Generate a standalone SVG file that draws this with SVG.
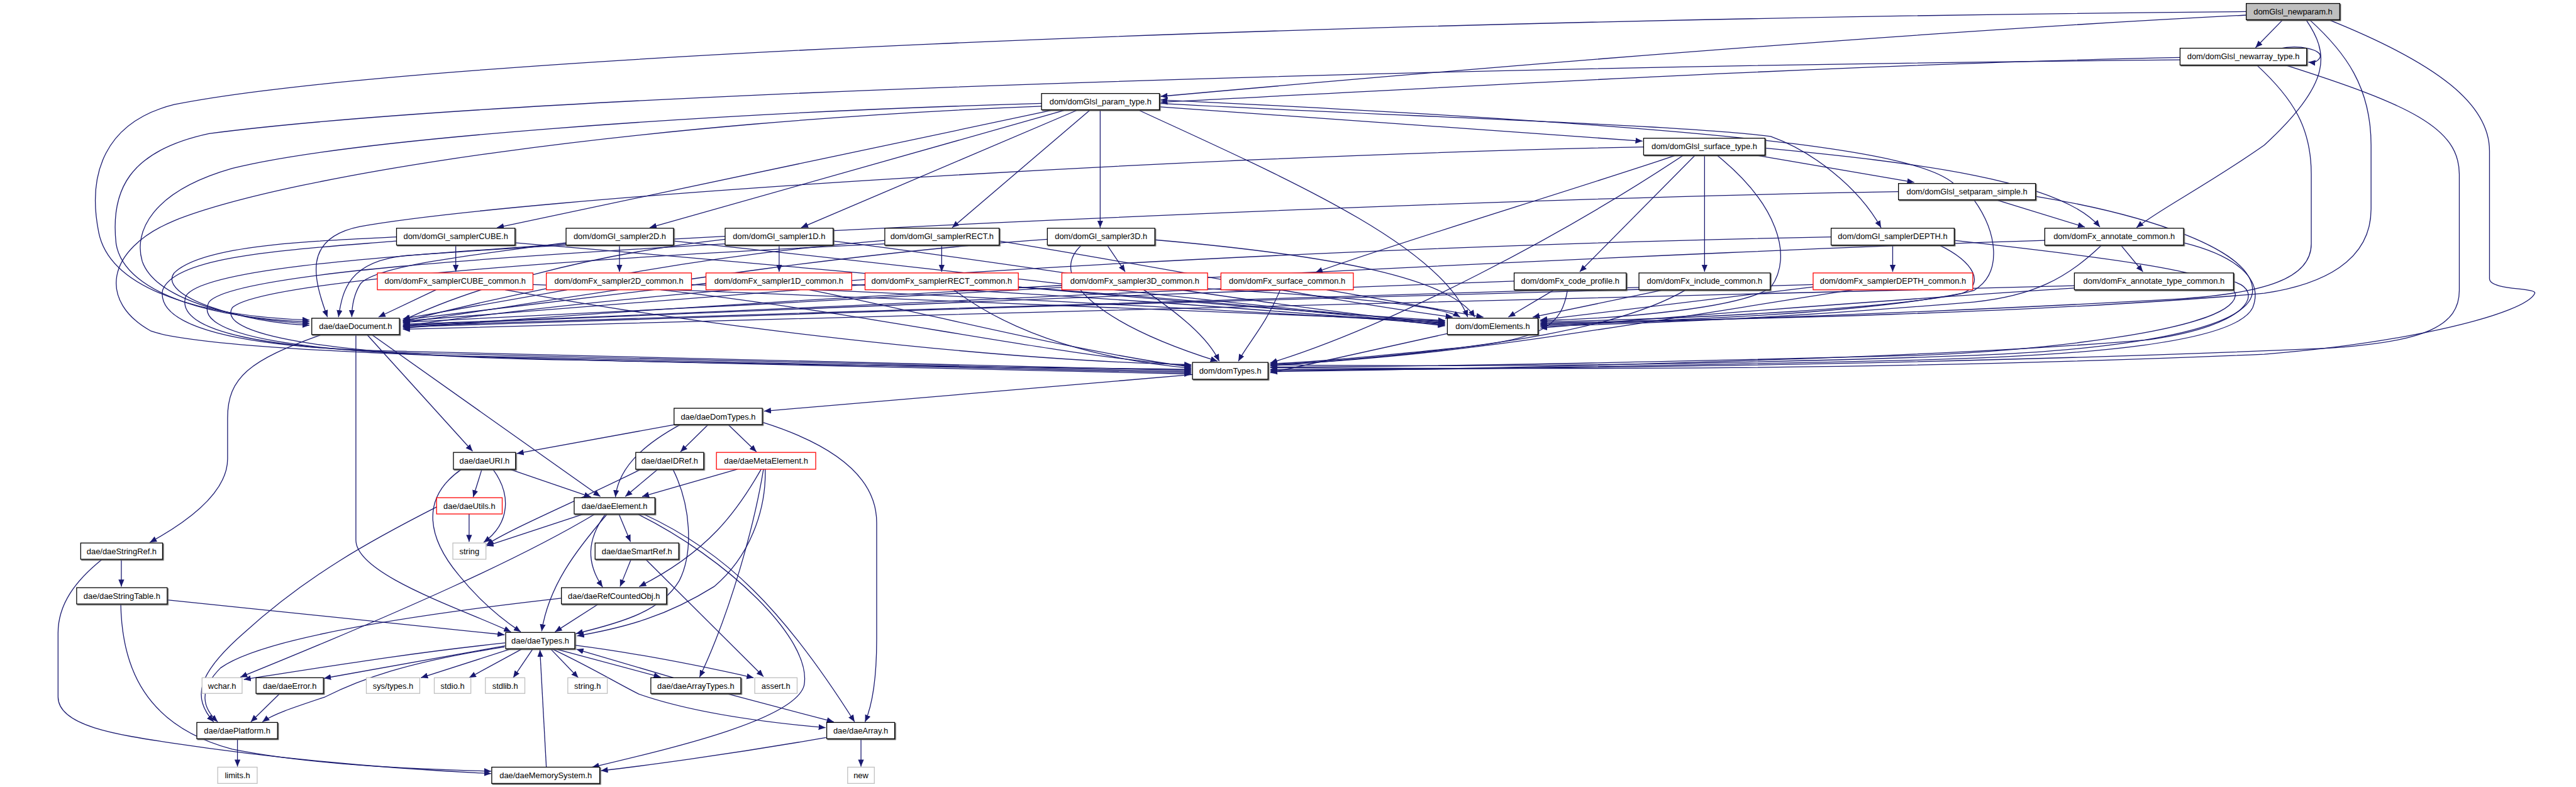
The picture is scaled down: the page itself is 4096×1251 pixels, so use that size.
<svg xmlns="http://www.w3.org/2000/svg" width="4096" height="1251" viewBox="0 0 4096 1251">
<style>
.nd rect{fill:#fff;stroke:#000;stroke-width:1.4}
.nd.b rect{filter:url(#sh)}
.nd.r rect{stroke:#ff0000}
.nd.g rect{stroke:#bfbfbf}
.nd.root rect{fill:#bfbfbf}
.nd text{font-family:"Liberation Sans",Arial,sans-serif;font-size:14px;text-anchor:middle;fill:#000}
.e path{fill:none;stroke:#191970;stroke-width:1.4;marker-end:url(#a)}
</style>
<defs>
<marker id="a" markerUnits="userSpaceOnUse" markerWidth="14" markerHeight="12" refX="12" refY="5" orient="auto"><path d="M0,0 L12,5 L0,10 z" fill="#191970"/></marker>
<filter id="sh" x="-5%" y="-10%" width="110%" height="130%"><feDropShadow dx="1.5" dy="1.5" stdDeviation="0" flood-color="#555"/></filter>
</defs>
<rect width="4096" height="1251" fill="#fff"/>
<g transform="scale(0.92315)">
<g id="edges" class="e">
<path d="M3932,34 L3885,82"/>
<path d="M3869,26 C3200,60 2400,130 1999,166"/>
<path d="M3869,20 C2200,35 700,100 300,180 C180,210 150,300 170,400 C190,500 350,545 533,551"/>
<path d="M3972,34 C4010,90 4020,140 3900,250 C3800,320 3720,360 3680,392"/>
<path d="M3978,34 C4040,90 4084,150 4084,250 L4084,360 C4084,450 4000,490 3900,505 C3500,540 3000,550 2653,556"/>
<path d="M4011,34 C4200,110 4288,180 4288,260 L4288,480 C4288,500 4370,495 4366,505 C4350,540 4150,590 3900,610 C3200,640 2600,635 2188,633"/>
<path d="M3925,84 C3960,76 4002,86 3996,99 C3992,107 3985,108 3976,107"/>
<path d="M3755,99 C3200,110 2500,150 1999,176"/>
<path d="M3755,103 C2500,115 900,160 360,230 C220,260 190,330 200,420 C215,510 380,550 533,554"/>
<path d="M3887,112 C3950,170 3981,220 3981,300 L3981,420 C3981,480 3900,505 3750,515 C3300,540 2900,552 2653,560"/>
<path d="M3936,112 C4150,180 4236,220 4236,300 L4236,500 C4236,560 4180,590 4000,600 C3300,630 2600,635 2188,638"/>
<path d="M1998,184 L2829,243"/>
<path d="M1816,189 L856,392"/>
<path d="M1837,189 L1119,392"/>
<path d="M1857,189 L1380,392"/>
<path d="M1878,189 L1640,392"/>
<path d="M1895,189 L1895,392"/>
<path d="M1997,178 C2400,200 2900,215 3050,235 C3120,260 3200,320 3240,392"/>
<path d="M1794,178 C1200,195 600,240 400,290 C260,330 230,400 245,450 C270,520 420,552 533,557"/>
<path d="M1960,189 C2200,300 2480,420 2528,546"/>
<path d="M1794,183 C1100,210 500,300 300,380 C180,430 170,520 260,570 C400,620 1400,628 2052,636"/>
<path d="M3023,267 L3297,314"/>
<path d="M2888,267 C2700,330 2400,420 2266,469"/>
<path d="M2920,267 L2721,468"/>
<path d="M2936,267 L2936,468"/>
<path d="M3040,255 C3300,280 3550,310 3617,391"/>
<path d="M2831,253 C2000,270 900,340 620,390 C520,410 540,480 564,546"/>
<path d="M2957,267 C3060,350 3090,440 3050,495 C3000,530 2800,548 2653,552"/>
<path d="M2900,267 C2700,400 2400,560 2188,625"/>
<path d="M3365,316 C3300,260 3000,220 1999,172"/>
<path d="M3438,344 L3591,391"/>
<path d="M3270,330 C2400,345 1100,410 700,440 C600,450 590,500 583,546"/>
<path d="M3400,344 C3440,400 3450,470 3400,500 C3300,530 2900,550 2653,554"/>
<path d="M3506,338 C3700,370 3880,430 3880,500 C3880,560 3700,600 3400,612 C2900,630 2500,632 2188,628"/>
<path d="M785,422 L785,468"/>
<path d="M683,408 C550,415 350,420 300,470 C270,510 420,556 533,560"/>
<path d="M887,418 C1400,460 2100,530 2489,552"/>
<path d="M683,415 C500,430 300,440 280,500 C270,560 400,600 700,605 C1200,615 1700,630 2052,638"/>
<path d="M1067,422 L1067,468"/>
<path d="M975,418 C800,440 640,460 620,490 C608,510 606,530 606,546"/>
<path d="M1160,415 C1600,460 2150,530 2489,555"/>
<path d="M975,420 C700,440 350,460 320,510 C300,570 450,605 800,610 C1300,620 1700,634 2052,640"/>
<path d="M1342,422 L1342,468"/>
<path d="M1249,412 C1000,440 800,500 694,552"/>
<path d="M1435,415 C1800,460 2200,530 2489,558"/>
<path d="M1249,420 C900,440 400,470 360,520 C330,575 500,610 900,615 C1400,625 1750,637 2052,642"/>
<path d="M1622,422 L1622,468"/>
<path d="M1524,414 C1200,440 900,500 694,554"/>
<path d="M1721,415 C2000,460 2300,520 2502,546"/>
<path d="M1524,420 C1100,440 450,480 400,530 C370,580 600,615 1000,620 C1500,630 1800,640 2052,644"/>
<path d="M1907,422 L1938,468"/>
<path d="M1804,412 C1400,440 1000,510 694,556"/>
<path d="M1989,413 C2300,440 2500,480 2540,546"/>
<path d="M1863,422 C1800,480 1900,560 2097,622"/>
<path d="M3260,422 L3260,468"/>
<path d="M3154,408 C2500,420 1300,470 694,562"/>
<path d="M3340,422 C3400,450 3420,490 3380,505 C3200,540 2900,552 2653,558"/>
<path d="M3366,414 C3600,440 3860,470 3850,510 C3840,570 3500,605 3300,612 C2800,625 2400,632 2188,632"/>
<path d="M3653,422 L3691,468"/>
<path d="M3522,414 C3000,430 1500,500 694,565"/>
<path d="M3620,422 C3560,480 3500,510 3400,520 C3100,545 2900,555 2653,562"/>
<path d="M3761,418 C3850,440 3900,480 3880,530 C3850,590 3600,612 3300,620 C2800,632 2400,636 2188,636"/>
<path d="M751,499 L652,546"/>
<path d="M918,490 C1500,510 2100,540 2489,553"/>
<path d="M870,499 C1200,560 1700,620 2052,628"/>
<path d="M977,499 L694,549"/>
<path d="M1191,490 C1700,510 2200,540 2489,556"/>
<path d="M1138,499 C1500,540 1800,610 2052,630"/>
<path d="M1216,488 L694,551"/>
<path d="M1467,490 C1900,510 2250,540 2489,559"/>
<path d="M1394,499 C1600,540 1850,605 2052,632"/>
<path d="M1490,490 L694,553"/>
<path d="M1754,494 C2100,520 2350,545 2489,561"/>
<path d="M1643,499 C1750,580 1900,620 2052,634"/>
<path d="M1829,495 C1500,515 1000,540 694,555"/>
<path d="M2080,497 C2300,510 2480,525 2515,546"/>
<path d="M1970,499 C2030,540 2080,580 2100,622"/>
<path d="M2103,497 C1700,515 1100,545 694,558"/>
<path d="M2285,499 L2555,546"/>
<path d="M2205,499 C2180,560 2150,590 2133,622"/>
<path d="M2608,484 C2000,505 1200,540 694,560"/>
<path d="M2677,499 L2598,546"/>
<path d="M2700,499 C2690,560 2660,585 2500,600 C2350,615 2250,625 2188,626"/>
<path d="M2823,495 C2200,510 1300,545 694,561"/>
<path d="M2866,499 L2640,546"/>
<path d="M2904,499 C2800,560 2600,600 2188,630"/>
<path d="M3123,490 C2600,500 1400,540 694,563"/>
<path d="M3123,494 C2900,520 2700,545 2653,551"/>
<path d="M3191,499 C2800,560 2500,615 2188,628"/>
<path d="M3573,492 C3000,505 1500,545 694,567"/>
<path d="M3573,496 C3200,520 2800,552 2653,565"/>
<path d="M3847,485 C3900,500 3880,560 3700,585 C3300,620 2500,636 2188,640"/>
<path d="M2495,574 L2188,642"/>
<path d="M2054,645 L1316,708"/>
<path d="M632,576 L814,777"/>
<path d="M640,576 L1034,855"/>
<path d="M552,577 C430,620 392,650 392,720 L392,790 C392,850 320,900 258,934"/>
<path d="M613,576 L613,930 C613,990 800,1050 880,1088"/>
<path d="M1163,731 L890,781"/>
<path d="M1172,731 C1100,770 1065,810 1060,856"/>
<path d="M1220,731 L1172,778"/>
<path d="M1254,731 L1303,778"/>
<path d="M1313,727 C1450,770 1510,830 1510,900 L1510,1100 C1510,1180 1500,1220 1490,1243"/>
<path d="M830,808 L815,856"/>
<path d="M849,808 C880,850 880,900 833,934"/>
<path d="M878,808 L1018,856"/>
<path d="M795,808 C720,860 740,930 790,990 C830,1040 870,1070 897,1088"/>
<path d="M808,885 L808,933"/>
<path d="M752,873 C640,930 530,990 420,1090 C340,1160 330,1200 368,1243"/>
<path d="M1133,808 L1077,855"/>
<path d="M1104,808 C1000,860 880,910 838,938"/>
<path d="M1159,808 C1190,870 1195,950 1170,1000 C1140,1050 1080,1070 992,1091"/>
<path d="M1270,808 L1106,855"/>
<path d="M1311,808 C1270,880 1220,950 1101,1010"/>
<path d="M1315,808 C1300,900 1260,1050 1205,1166"/>
<path d="M1318,808 C1320,880 1290,960 1230,1010 C1150,1060 1080,1080 994,1095"/>
<path d="M1006,885 L838,940"/>
<path d="M1066,885 L1086,933"/>
<path d="M1043,885 C1010,930 1010,970 1038,1011"/>
<path d="M1046,885 C990,950 945,1010 933,1087"/>
<path d="M1025,885 C900,960 700,1050 414,1166"/>
<path d="M1098,885 C1250,960 1400,1100 1385,1180 C1370,1240 1150,1290 1020,1321"/>
<path d="M1108,885 C1250,950 1350,1050 1472,1243"/>
<path d="M1112,963 L1315,1165"/>
<path d="M1087,963 L1068,1010"/>
<path d="M209,963 L209,1010"/>
<path d="M176,963 C130,1000 100,1040 100,1090 L100,1200 C100,1250 200,1265 300,1280 C500,1310 700,1325 846,1332"/>
<path d="M288,1033 L869,1093"/>
<path d="M208,1040 C210,1150 250,1250 400,1290 C550,1320 750,1325 846,1328"/>
<path d="M1031,1040 L956,1088"/>
<path d="M967,1030 C700,1060 450,1100 380,1150 C340,1190 350,1220 375,1243"/>
<path d="M870,1107 C700,1125 550,1150 420,1170"/>
<path d="M870,1112 L558,1168"/>
<path d="M881,1117 L725,1167"/>
<path d="M900,1117 L808,1167"/>
<path d="M918,1117 L884,1167"/>
<path d="M948,1117 L996,1167"/>
<path d="M869,1114 C700,1140 620,1170 560,1200 C500,1220 470,1230 452,1243"/>
<path d="M955,1117 L1138,1166"/>
<path d="M1160,1167 L993,1118"/>
<path d="M990,1111 C1100,1125 1200,1145 1298,1167"/>
<path d="M950,1117 C1020,1150 1060,1175 1100,1195 C1200,1230 1330,1245 1422,1253"/>
<path d="M481,1195 L432,1243"/>
<path d="M409,1272 L409,1320"/>
<path d="M1254,1195 L1436,1243"/>
<path d="M1483,1272 L1483,1320"/>
<path d="M1423,1270 C1250,1300 1100,1320 1035,1327"/>
<path d="M941,1321 L930,1119"/>
</g>
<g id="n_newparam" class="nd b root"><rect x="3869" y="6" width="161" height="28"/><text x="3949.5" y="25">domGlsl_newparam.h</text></g>
<g id="n_newarray" class="nd b"><rect x="3755" y="83" width="218" height="29"/><text x="3864" y="102">dom/domGlsl_newarray_type.h</text></g>
<g id="n_param" class="nd b"><rect x="1794" y="161" width="203" height="28"/><text x="1895.5" y="180">dom/domGlsl_param_type.h</text></g>
<g id="n_surface" class="nd b"><rect x="2831" y="238" width="209" height="29"/><text x="2935.5" y="257">dom/domGlsl_surface_type.h</text></g>
<g id="n_setparam" class="nd b"><rect x="3270" y="316" width="236" height="28"/><text x="3388" y="335">dom/domGlsl_setparam_simple.h</text></g>
<g id="n_sCUBE" class="nd b"><rect x="683" y="393" width="204" height="29"/><text x="785" y="412">dom/domGl_samplerCUBE.h</text></g>
<g id="n_s2D" class="nd b"><rect x="975" y="393" width="185" height="29"/><text x="1067.5" y="412">dom/domGl_sampler2D.h</text></g>
<g id="n_s1D" class="nd b"><rect x="1249" y="393" width="186" height="29"/><text x="1342" y="412">dom/domGl_sampler1D.h</text></g>
<g id="n_sRECT" class="nd b"><rect x="1524" y="393" width="197" height="29"/><text x="1622.5" y="412">dom/domGl_samplerRECT.h</text></g>
<g id="n_s3D" class="nd b"><rect x="1804" y="393" width="185" height="29"/><text x="1896.5" y="412">dom/domGl_sampler3D.h</text></g>
<g id="n_sDEPTH" class="nd b"><rect x="3154" y="393" width="212" height="29"/><text x="3260" y="412">dom/domGl_samplerDEPTH.h</text></g>
<g id="n_annot" class="nd b"><rect x="3522" y="393" width="239" height="29"/><text x="3641.5" y="412">dom/domFx_annotate_common.h</text></g>
<g id="n_cCUBE" class="nd r"><rect x="650" y="470" width="268" height="29"/><text x="784" y="489">dom/domFx_samplerCUBE_common.h</text></g>
<g id="n_c2D" class="nd r"><rect x="941" y="470" width="250" height="29"/><text x="1066" y="489">dom/domFx_sampler2D_common.h</text></g>
<g id="n_c1D" class="nd r"><rect x="1216" y="470" width="251" height="29"/><text x="1341.5" y="489">dom/domFx_sampler1D_common.h</text></g>
<g id="n_cRECT" class="nd r"><rect x="1490" y="470" width="264" height="29"/><text x="1622" y="489">dom/domFx_samplerRECT_common.h</text></g>
<g id="n_c3D" class="nd r"><rect x="1829" y="470" width="251" height="29"/><text x="1954.5" y="489">dom/domFx_sampler3D_common.h</text></g>
<g id="n_csurf" class="nd r"><rect x="2103" y="470" width="228" height="29"/><text x="2217" y="489">dom/domFx_surface_common.h</text></g>
<g id="n_code" class="nd b"><rect x="2608" y="470" width="193" height="29"/><text x="2704.5" y="489">dom/domFx_code_profile.h</text></g>
<g id="n_incl" class="nd b"><rect x="2823" y="470" width="226" height="29"/><text x="2936" y="489">dom/domFx_include_common.h</text></g>
<g id="n_cDEPTH" class="nd r"><rect x="3123" y="470" width="275" height="29"/><text x="3260.5" y="489">dom/domFx_samplerDEPTH_common.h</text></g>
<g id="n_atype" class="nd b"><rect x="3573" y="470" width="274" height="29"/><text x="3710" y="489">dom/domFx_annotate_type_common.h</text></g>
<g id="n_daeDoc" class="nd b"><rect x="537" y="548" width="151" height="28"/><text x="612.5" y="567">dae/daeDocument.h</text></g>
<g id="n_domElem" class="nd b"><rect x="2493" y="548" width="156" height="28"/><text x="2571" y="567">dom/domElements.h</text></g>
<g id="n_domTypes" class="nd b"><rect x="2054" y="624" width="130" height="29"/><text x="2119" y="643">dom/domTypes.h</text></g>
<g id="n_daeDomTypes" class="nd b"><rect x="1161" y="703" width="152" height="28"/><text x="1237" y="722">dae/daeDomTypes.h</text></g>
<g id="n_daeURI" class="nd b"><rect x="781" y="779" width="107" height="29"/><text x="834.5" y="798">dae/daeURI.h</text></g>
<g id="n_daeIDRef" class="nd b"><rect x="1095" y="779" width="117" height="29"/><text x="1153.5" y="798">dae/daeIDRef.h</text></g>
<g id="n_daeMeta" class="nd r"><rect x="1234" y="779" width="171" height="29"/><text x="1319.5" y="798">dae/daeMetaElement.h</text></g>
<g id="n_daeUtils" class="nd r"><rect x="752" y="857" width="113" height="28"/><text x="808.5" y="876">dae/daeUtils.h</text></g>
<g id="n_daeElem" class="nd b"><rect x="989" y="857" width="139" height="28"/><text x="1058.5" y="876">dae/daeElement.h</text></g>
<g id="n_daeStrRef" class="nd b"><rect x="139" y="935" width="141" height="28"/><text x="209.5" y="954">dae/daeStringRef.h</text></g>
<g id="n_string" class="nd g"><rect x="780" y="935" width="57" height="28"/><text x="808.5" y="954">string</text></g>
<g id="n_daeSmart" class="nd b"><rect x="1025" y="935" width="144" height="28"/><text x="1097" y="954">dae/daeSmartRef.h</text></g>
<g id="n_daeStrTab" class="nd b"><rect x="132" y="1012" width="156" height="28"/><text x="210" y="1031">dae/daeStringTable.h</text></g>
<g id="n_daeRCO" class="nd b"><rect x="967" y="1012" width="181" height="28"/><text x="1057.5" y="1031">dae/daeRefCountedObj.h</text></g>
<g id="n_daeTypes" class="nd b"><rect x="871" y="1089" width="119" height="28"/><text x="930.5" y="1108">dae/daeTypes.h</text></g>
<g id="n_wchar" class="nd g"><rect x="348" y="1167" width="69" height="27"/><text x="382.5" y="1186">wchar.h</text></g>
<g id="n_daeError" class="nd b"><rect x="441" y="1167" width="116" height="27"/><text x="499" y="1186">dae/daeError.h</text></g>
<g id="n_systypes" class="nd g"><rect x="631" y="1167" width="92" height="27"/><text x="677" y="1186">sys/types.h</text></g>
<g id="n_stdio" class="nd g"><rect x="748" y="1167" width="63" height="27"/><text x="779.5" y="1186">stdio.h</text></g>
<g id="n_stdlib" class="nd g"><rect x="836" y="1167" width="68" height="27"/><text x="870" y="1186">stdlib.h</text></g>
<g id="n_stringh" class="nd g"><rect x="978" y="1167" width="68" height="27"/><text x="1012" y="1186">string.h</text></g>
<g id="n_daeArrT" class="nd b"><rect x="1121" y="1167" width="155" height="27"/><text x="1198.5" y="1186">dae/daeArrayTypes.h</text></g>
<g id="n_assert" class="nd g"><rect x="1300" y="1167" width="73" height="27"/><text x="1336.5" y="1186">assert.h</text></g>
<g id="n_daePlat" class="nd b"><rect x="339" y="1244" width="139" height="28"/><text x="408.5" y="1263">dae/daePlatform.h</text></g>
<g id="n_daeArray" class="nd b"><rect x="1424" y="1244" width="117" height="28"/><text x="1482.5" y="1263">dae/daeArray.h</text></g>
<g id="n_limits" class="nd g"><rect x="375" y="1321" width="68" height="28"/><text x="409" y="1340">limits.h</text></g>
<g id="n_daeMem" class="nd b"><rect x="847" y="1321" width="186" height="28"/><text x="940" y="1340">dae/daeMemorySystem.h</text></g>
<g id="n_new" class="nd g"><rect x="1460" y="1321" width="46" height="28"/><text x="1483" y="1340">new</text></g>
</g>
</svg>
